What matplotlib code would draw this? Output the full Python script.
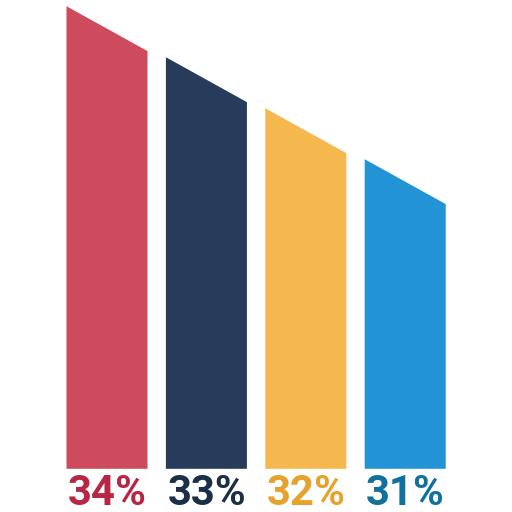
import matplotlib
matplotlib.use("Agg")
import matplotlib.pyplot as plt

# Data
labels = ["34%", "33%", "32%", "31%"]
values_left = [34.0, 33.0, 32.0, 31.0]
values_right = [33.12, 32.12, 31.12, 30.12]
bar_colors = ["#CE4A5D", "#263C5A", "#F5B84F", "#2293D5"]
label_colors = ["#B72643", "#1B2F47", "#E5A22C", "#10709E"]

baseline = 24.93
bar_width = 0.815

fig = plt.figure(figsize=(5.12, 5.12), dpi=100, facecolor="white")
ax = fig.add_axes([0, 0, 1, 1])
ax.set_xlim(-106.5 / 99.4, (512 - 106.5) / 99.4)
ax.set_ylim(baseline - 43.7 / 51, baseline + 468.3 / 51)
ax.axis("off")

for i, (vl, vr, c, lc, lab) in enumerate(zip(values_left, values_right, bar_colors, label_colors, labels)):
    x0 = i - bar_width / 2
    x1 = i + bar_width / 2
    ax.fill_between([x0, x1], [baseline, baseline], [vl, vr], color=c, linewidth=0)
    ax.annotate(lab, xy=(i, baseline), xytext=(0.5, -26.3), textcoords="offset points",
                ha="center", va="baseline", fontsize=30.2, fontweight="bold",
                family="Roboto", color=lc)

fig.savefig("out.png", dpi=100, facecolor="white")
